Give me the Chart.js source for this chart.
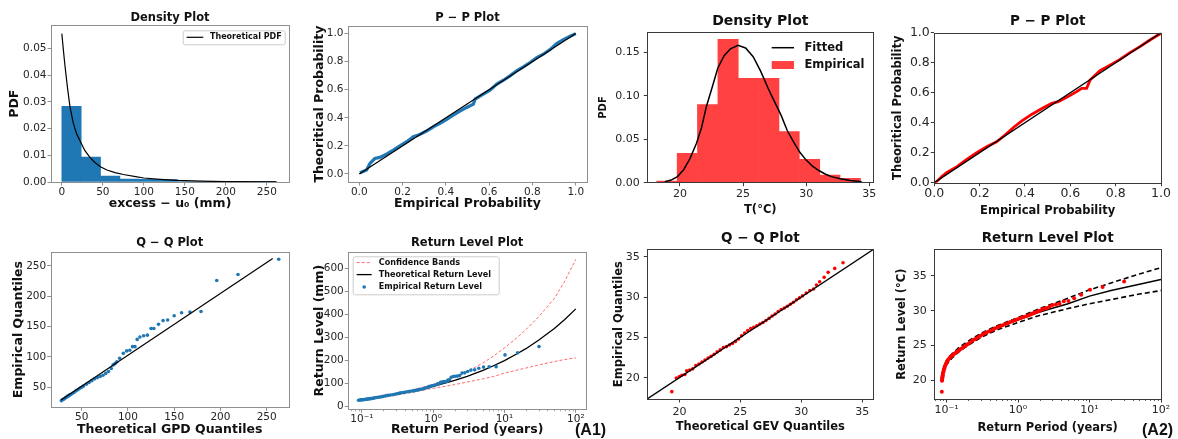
<!DOCTYPE html>
<html>
<head>
<meta charset="utf-8">
<title>Extreme value fit diagnostics</title>
<script src="https://cdn.jsdelivr.net/npm/chart.js@4.4.1/dist/chart.umd.min.js"></script>
<style>
  body { margin: 0; width: 1178px; height: 439px; background: #fff; position: relative; overflow: hidden; }
  canvas { position: absolute; }
  .tag { position: absolute; font: bold 16px "Liberation Sans", Arial, sans-serif; line-height: 16px; color: #111; }
</style>
</head>
<body>
<canvas id="dens1"></canvas>
<canvas id="pp1"></canvas>
<canvas id="dens2"></canvas>
<canvas id="pp2"></canvas>
<canvas id="qq1"></canvas>
<canvas id="rl1"></canvas>
<canvas id="qq2"></canvas>
<canvas id="rl2"></canvas>
<div class="tag" style="left:575px; top:422px">(A1)</div>
<div class="tag" style="left:1142px; top:422px">(A2)</div>
<script>
// ---------- A1 : GPD fit of rainfall excesses ----------
const gpdBinCenters = [11.8, 35.4, 59.0, 82.6, 106.2, 129.8, 153.4, 177.0, 200.6, 224.2, 247.8];
const gpdBinDensity = [0.0283, 0.0093, 0.0022, 0.0011, 0.0010, 0.0009, 0.0002, 0.0002, 0.0001, 0.0001, 0.0001];
const gpdPdfX = [0, 2, 4, 7, 10, 14, 18, 22, 28, 34, 40, 47, 55, 65, 75, 90, 100, 120, 140, 170, 200, 262];
const gpdPdfY = [0.0555, 0.049, 0.043, 0.035, 0.028, 0.022, 0.018, 0.0155, 0.0118, 0.0093, 0.0074, 0.0057, 0.0045, 0.0035, 0.0028, 0.0020, 0.0015, 0.0010, 0.0006, 0.0003, 0.00015, 0.00005];

const ppEmp1 = [0.003, 0.034, 0.05, 0.072, 0.095, 0.126, 0.157, 0.188, 0.219, 0.25, 0.273, 0.311, 0.342, 0.373, 0.404, 0.434, 0.465, 0.496, 0.527, 0.535, 0.565, 0.604, 0.635, 0.666, 0.696, 0.727, 0.758, 0.789, 0.82, 0.85, 0.881, 0.912, 0.943, 0.974, 1.0];
const ppTheo1 = [0.009, 0.028, 0.076, 0.11, 0.118, 0.142, 0.17, 0.2, 0.23, 0.265, 0.277, 0.306, 0.336, 0.36, 0.389, 0.419, 0.448, 0.474, 0.498, 0.533, 0.562, 0.597, 0.64, 0.668, 0.699, 0.735, 0.763, 0.794, 0.829, 0.853, 0.886, 0.929, 0.957, 0.981, 1.0];
const diagUnit = [0, 1];

const qqTheo1 = [28, 29, 30, 31, 32, 33, 34, 35, 36, 37, 38, 40, 42, 44, 46, 48, 50, 52, 55, 58, 61, 64, 67, 70, 73, 76, 79, 82, 84, 86, 88, 91, 95, 98.6, 102, 105, 107.6, 110, 113, 117, 121, 125, 128, 133, 138, 143, 150, 158, 167, 179, 196, 219, 263];
const qqEmp1 = [28, 29.5, 30, 31, 32, 33.5, 34, 35.5, 36, 37.5, 38, 40, 42, 44.5, 46, 48.5, 50, 52, 55, 58, 61, 64, 66, 68, 70, 73, 76, 81, 87, 89, 92, 98, 106, 110, 111, 117, 117, 129, 133, 135, 136, 147, 147, 154, 160, 161, 168, 173, 174, 175, 226, 236, 261];
const qqLine1X = [27.6, 256.5];
const qqLine1Y = [29.1, 262.2];

const rlPeriod1 = [30.5, 15.25, 10.17, 7.63, 6.1, 5.08, 4.36, 3.81, 3.39, 3.05, 2.77, 2.54, 2.35, 2.18, 2.03, 1.91, 1.79, 1.69, 1.61, 1.53, 1.45, 1.39, 1.33, 1.27, 1.22, 1.17, 1.13, 1.07, 1.02, 0.96, 0.92, 0.88, 0.85, 0.8, 0.76, 0.72, 0.68, 0.64, 0.61, 0.58, 0.55, 0.53, 0.51, 0.47, 0.44, 0.41, 0.38, 0.36, 0.34, 0.325, 0.31, 0.29, 0.27, 0.25, 0.23, 0.215, 0.2, 0.19, 0.18, 0.17, 0.16, 0.152, 0.145, 0.139, 0.133, 0.127, 0.122, 0.117, 0.113, 0.109, 0.105, 0.1, 0.098, 0.094, 0.09];
const rlLevel1 = [261, 234, 225, 174, 173, 172, 167, 160, 159, 153, 147, 146, 135, 133, 132, 131, 128, 117, 116, 109, 109, 108, 107, 106, 101, 99, 97, 94, 92, 90.5, 89, 87, 85, 82.5, 80, 78, 76, 74.5, 73, 71.5, 70, 69, 68, 66.5, 65, 63.5, 62, 60.5, 59, 57.5, 56, 54, 52, 50.5, 49, 47, 45, 43.5, 42, 41, 40, 38.5, 37, 36, 35, 34.2, 33.5, 32.8, 32, 31.2, 30.5, 30, 29.5, 28.8, 28];
const rlCurveT1 = [0.09, 0.12, 0.15, 0.2, 0.3, 0.5, 0.7, 1, 1.5, 2, 3, 5, 7, 10, 15, 20, 30, 50, 70, 100];
const rlTheo1 = [30, 35, 39, 45, 54, 67, 77, 88, 103, 114, 132, 158, 178, 200, 230, 252, 289, 340, 379, 425];
const rlUpper1 = [31, 37, 41, 48, 57, 72, 84, 97, 114, 129, 153, 190, 220, 255, 300, 335, 390, 470, 545, 640];
const rlLower1 = [27, 32, 36, 42, 50, 62, 71, 80, 89, 96, 107, 121, 131, 146, 159, 168, 181, 196, 205, 212];

// ---------- A2 : GEV fit of temperature maxima ----------
const tBinCenters = [18.96, 20.58, 22.19, 23.81, 25.42, 27.04, 28.65, 30.27, 31.88, 33.50];
const tBinDensity = [0.002, 0.0338, 0.090, 0.165, 0.120, 0.120, 0.0587, 0.0268, 0.0088, 0.005];
const tFitX = [18.8, 19.3, 19.8, 20.3, 20.8, 21.3, 21.7, 22.1, 22.6, 23.0, 23.5, 24.0, 24.6, 25.2, 25.8, 26.4, 27.0, 27.5, 28.0, 28.5, 29.0, 29.5, 30.0, 30.5, 31.0, 31.5, 32.0, 32.7, 33.5, 34.4];
const tFitPdf = [0.001, 0.003, 0.007, 0.015, 0.028, 0.045, 0.063, 0.088, 0.112, 0.132, 0.146, 0.154, 0.158, 0.155, 0.145, 0.128, 0.108, 0.093, 0.078, 0.060, 0.047, 0.035, 0.026, 0.019, 0.014, 0.010, 0.007, 0.0045, 0.0025, 0.001];

const ppEmp2 = [0, 0.01, 0.032, 0.054, 0.1, 0.143, 0.187, 0.231, 0.275, 0.312, 0.349, 0.385, 0.429, 0.481, 0.518, 0.547, 0.584, 0.628, 0.65, 0.672, 0.687, 0.731, 0.775, 0.819, 0.863, 0.907, 0.951, 1.0];
const ppTheo2 = [0, 0.007, 0.04, 0.067, 0.107, 0.156, 0.2, 0.24, 0.273, 0.318, 0.368, 0.41, 0.455, 0.5, 0.529, 0.54, 0.569, 0.607, 0.629, 0.629, 0.684, 0.747, 0.784, 0.822, 0.867, 0.907, 0.951, 0.996];

const qqTheo2 = [19.38, 19.75, 20.0, 20.2, 20.45, 20.6, 20.85, 21.1, 21.35, 21.6, 21.85, 22.1, 22.35, 22.6, 22.85, 23.1, 23.35, 23.6, 23.85, 24.1, 24.35, 24.6, 24.85, 25.1, 25.35, 25.6, 25.85, 26.1, 26.35, 26.6, 26.85, 27.1, 27.35, 27.6, 27.85, 28.1, 28.35, 28.6, 28.85, 29.1, 29.35, 29.6, 29.85, 30.1, 30.4, 30.7, 31.0, 31.24, 31.5, 31.87, 32.2, 32.74, 33.42];
const qqEmp2 = [18.27, 19.95, 20.15, 20.3, 20.4, 20.85, 20.95, 21.1, 21.5, 21.7, 21.95, 22.2, 22.45, 22.65, 22.9, 23.2, 23.45, 23.75, 23.85, 24.05, 24.25, 24.5, 24.8, 25.2, 25.55, 25.85, 26.1, 26.25, 26.45, 26.65, 26.85, 27.1, 27.35, 27.65, 27.9, 28.2, 28.45, 28.65, 28.85, 29.1, 29.35, 29.65, 29.9, 30.15, 30.5, 30.8, 31.0, 31.5, 31.9, 32.44, 33.06, 33.55, 34.25];
const qqLine2 = [17.37, 35.9];

const rlPeriod2 = [30.5, 15.25, 10.17, 7.63, 6.1, 5.08, 4.36, 3.81, 3.39, 3.05, 2.77, 2.54, 2.35, 2.18, 2.03, 1.9, 1.8, 1.7, 1.6, 1.5, 1.4, 1.3, 1.2, 1.1, 1.0, 0.93, 0.85, 0.78, 0.72, 0.66, 0.61, 0.56, 0.52, 0.48, 0.45, 0.42, 0.39, 0.36, 0.34, 0.32, 0.3, 0.28, 0.26, 0.245, 0.23, 0.215, 0.2, 0.19, 0.18, 0.17, 0.16, 0.152, 0.145, 0.139, 0.133, 0.127, 0.122, 0.117, 0.113, 0.109, 0.105, 0.102, 0.1, 0.098, 0.096, 0.0945, 0.093, 0.092, 0.091, 0.09, 0.089, 0.0885, 0.088, 0.0875, 0.087, 0.0868, 0.0865, 0.086];
const rlLevel2 = [34.2, 33.4, 33.0, 32.3, 31.8, 31.4, 31.35, 31.0, 30.9, 30.8, 30.6, 30.4, 30.3, 30.2, 30.0, 29.9, 29.8, 29.7, 29.6, 29.45, 29.3, 29.2, 29.1, 28.95, 28.8, 28.65, 28.5, 28.35, 28.2, 28.05, 27.9, 27.75, 27.6, 27.45, 27.3, 27.15, 27.0, 26.85, 26.7, 26.55, 26.4, 26.2, 26.0, 25.85, 25.7, 25.45, 25.2, 25.05, 24.9, 24.7, 24.5, 24.35, 24.2, 24.05, 23.9, 23.75, 23.6, 23.45, 23.3, 23.1, 22.9, 22.7, 22.5, 22.3, 22.1, 21.9, 21.7, 21.5, 21.3, 21.1, 20.9, 20.7, 20.5, 20.35, 20.2, 20.05, 19.9, 18.3];
const rlCurveT2 = [0.085, 0.09, 0.1, 0.12, 0.15, 0.2, 0.3, 0.5, 1, 2, 5, 10, 20, 50, 100];
const rlTheo2 = [20.0, 21.2, 22.5, 23.5, 24.4, 25.3, 26.4, 27.5, 28.7, 29.8, 31.0, 32.1, 32.9, 33.8, 34.5];
const rlUpper2 = [20.2, 21.4, 22.8, 23.8, 24.7, 25.6, 26.7, 27.8, 29.0, 30.3, 31.8, 33.0, 34.0, 35.3, 36.2];
const rlLower2 = [19.8, 21.0, 22.2, 23.2, 24.1, 25.0, 26.1, 27.2, 28.3, 29.3, 30.3, 31.0, 31.6, 32.4, 32.9];

// ---------- tick values / labels ----------
const probTicks = [0, 0.2, 0.4, 0.6, 0.8, 1.0];
const mmTicks = [50, 100, 150, 200, 250];
const excessTicks = [0, 50, 100, 150, 200, 250];
const pdfTicks1 = [0, 0.01, 0.02, 0.03, 0.04, 0.05];
const pdfTicks2 = [0, 0.05, 0.10, 0.15];
const levelTicks1 = [0, 100, 200, 300, 400, 500, 600];
const tempTicks = [20, 25, 30, 35];
const logTicks = [0.1, 1, 10, 100];
const logLabels = ['10\u207B\u00B9', '10\u2070', '10\u00B9', '10\u00B2'];
const logMinorTicks = [0.07, 0.08, 0.09, 0.2, 0.3, 0.4, 0.5, 0.6, 0.7, 0.8, 0.9, 2, 3, 4, 5, 6, 7, 8, 9, 20, 30, 40, 50, 60, 70, 80, 90];

const BLUE = '#1f77b4';
const RED = '#ff0000';
const EDGE1 = '#8f8f8f';
const EDGE2 = '#3a3a3a';

Chart.defaults.font.family = '"DejaVu Sans", sans-serif';

function pairs(xs, ys) {
  return xs.map((x, i) => ({ x: x, y: ys[i] }));
}

function axis(o) {
  const left = o.pos === 'left';
  return {
    type: o.log ? 'logarithmic' : 'linear',
    position: o.pos,
    min: o.min,
    max: o.max,
    bounds: 'data',
    offset: false,
    afterBuildTicks: s => { s.ticks = o.ticks.map(v => ({ value: v })); },
    afterFit: s => { if (left) s.width = o.size; else s.height = o.size; },
    grid: { display: true, drawOnChartArea: false, drawTicks: true, tickLength: 3.5, tickWidth: 1,
            tickColor: o.edge, color: o.edge, offset: false },
    border: { display: false },
    ticks: {
      autoSkip: false, maxRotation: 0, minRotation: 0, padding: o.pad,
      color: '#262626', font: { size: o.fs },
      callback: v => o.labels ? o.labels[o.ticks.indexOf(v)] : o.fmt(v)
    },
    title: {
      display: true, text: o.title, color: '#111',
      font: { size: o.ts, weight: 'bold' },
      padding: left ? { top: o.tp, bottom: 0 } : { top: 0, bottom: o.tp }
    }
  };
}

function drawLegend(ctx, a, L) {
  const x0 = a.left + L.x, y0 = a.top + L.y;
  if (L.frame) {
    ctx.fillStyle = 'rgba(255,255,255,0.85)';
    ctx.strokeStyle = '#cccccc';
    ctx.lineWidth = 1;
    ctx.beginPath();
    ctx.roundRect(x0 + 0.5, y0 + 0.5, L.w, L.h, 2);
    ctx.fill();
    ctx.stroke();
  }
  ctx.font = 'bold ' + L.size + 'px "DejaVu Sans"';
  ctx.textAlign = 'left';
  ctx.textBaseline = 'middle';
  L.items.forEach((it, i) => {
    const cy = y0 + L.rows[i];
    if (it.kind === 'line') {
      ctx.strokeStyle = it.color;
      ctx.lineWidth = it.width;
      ctx.setLineDash(it.dash || []);
      ctx.beginPath();
      ctx.moveTo(x0 + L.s0, cy);
      ctx.lineTo(x0 + L.s1, cy);
      ctx.stroke();
      ctx.setLineDash([]);
    } else if (it.kind === 'dot') {
      ctx.fillStyle = it.color;
      ctx.beginPath();
      ctx.arc(x0 + (L.s0 + L.s1) / 2, cy, it.r, 0, Math.PI * 2);
      ctx.fill();
    } else {
      ctx.fillStyle = it.color;
      ctx.fillRect(x0 + L.s0, cy - 4, L.s1 - L.s0, 8);
    }
    ctx.fillStyle = '#111';
    ctx.fillText(it.text, x0 + L.tx, cy);
  });
}

function makeDecor(spec) {
  return {
    id: 'decor',
    afterDraw(chart) {
      const ctx = chart.ctx, a = chart.chartArea;
      ctx.save();
      if (spec.minor) {
        const sx = chart.scales.x;
        ctx.strokeStyle = spec.edge;
        ctx.lineWidth = 0.8;
        spec.minor.forEach(v => {
          if (v < sx.min || v > sx.max) return;
          const px = Math.round(sx.getPixelForValue(v)) + 0.5;
          ctx.beginPath();
          ctx.moveTo(px, a.bottom);
          ctx.lineTo(px, a.bottom + 2);
          ctx.stroke();
        });
      }
      ctx.strokeStyle = spec.edge;
      ctx.lineWidth = 1;
      ctx.strokeRect(Math.round(a.left) + 0.5, Math.round(a.top) + 0.5,
                     Math.round(a.right - a.left), Math.round(a.bottom - a.top));
      if (spec.legend) drawLegend(ctx, a, spec.legend);
      ctx.restore();
    }
  };
}

function panel(id, box, cfg) {
  const c = document.getElementById(id);
  c.style.left = box[0] + 'px';
  c.style.top = box[1] + 'px';
  c.width = box[2];
  c.height = box[3];
  return new Chart(c, {
    type: 'scatter',
    data: { datasets: cfg.datasets },
    options: {
      responsive: false,
      animation: false,
      events: [],
      layout: { padding: { left: 0, top: 0, bottom: 0, right: cfg.right } },
      scales: { x: cfg.x, y: cfg.y },
      plugins: {
        legend: { display: false },
        tooltip: { enabled: false },
        title: {
          display: true, fullSize: false, text: cfg.title, color: '#111',
          font: { size: cfg.tsize, weight: 'bold' },
          padding: { top: cfg.tpad[0], bottom: cfg.tpad[1] }
        }
      }
    },
    plugins: [makeDecor(cfg.decor)]
  });
}

function lineSet(xs, ys, color, width, dash) {
  return { data: pairs(xs, ys), showLine: true, borderColor: color, borderWidth: width,
           borderDash: dash || [], pointRadius: 0, tension: 0, fill: false };
}
function dotSet(xs, ys, color, r) {
  return { data: pairs(xs, ys), showLine: false, pointRadius: r, pointBorderWidth: 0,
           backgroundColor: color, borderColor: color };
}
function barSet(xs, ys, color) {
  return { type: 'bar', data: pairs(xs, ys), backgroundColor: color, borderWidth: 0,
           barPercentage: 1, categoryPercentage: 1, grouped: false };
}

const f0 = v => String(v);
const f1 = v => v.toFixed(1);
const f2 = v => v.toFixed(2);

// ---- A1 Density ----
panel('dens1', [0, 0, 295, 215], {
  title: 'Density Plot', tsize: 11.5, tpad: [11.1, 0.4], right: 6,
  datasets: [
    lineSet(gpdPdfX, gpdPdfY, '#000', 1.2),
    barSet(gpdBinCenters, gpdBinDensity, BLUE)
  ],
  x: axis({ pos: 'bottom', min: -13.2, max: 277, ticks: excessTicks, fmt: f0, size: 33, fs: 10.5, pad: 0,
            edge: EDGE1, title: 'excess \u2212 u\u2080 (mm)', ts: 12.5, tp: 3.5 }),
  y: axis({ pos: 'left', min: 0, max: 0.0586, ticks: pdfTicks1, fmt: f2, size: 51, fs: 10.5, pad: 1,
            edge: EDGE1, title: 'PDF', ts: 12.5, tp: 7.5 }),
  decor: { edge: EDGE1, legend: { x: 131.7, y: 5, w: 102, h: 14, frame: true, size: 8, s0: 4, s1: 20.6, tx: 27.3,
           rows: [7], items: [{ kind: 'line', color: '#000', width: 1.2, text: 'Theoretical PDF' }] } }
});

// ---- A1 P-P ----
panel('pp1', [300, 0, 294, 215], {
  title: 'P \u2212 P Plot', tsize: 11.5, tpad: [11.1, 1.4], right: 7,
  datasets: [
    lineSet(diagUnit, diagUnit, '#000', 1.2),
    lineSet(ppEmp1, ppTheo1, BLUE, 3.2)
  ],
  x: axis({ pos: 'bottom', min: -0.052, max: 1.052, ticks: probTicks, fmt: f1, size: 33, fs: 10.5, pad: 0,
            edge: EDGE1, title: 'Empirical Probability', ts: 12.5, tp: 3.5 }),
  y: axis({ pos: 'left', min: -0.057, max: 1.052, ticks: probTicks, fmt: f1, size: 48, fs: 10.5, pad: 1,
            edge: EDGE1, title: 'Theoritical Probability', ts: 12.5, tp: 11.8 }),
  decor: { edge: EDGE1 }
});

// ---- A1 Q-Q ----
panel('qq1', [0, 225, 295, 214], {
  title: 'Q \u2212 Q Plot', tsize: 11.5, tpad: [11.4, 1.8], right: 6.3,
  datasets: [
    lineSet(qqLine1X, qqLine1Y, '#000', 1.2),
    dotSet(qqTheo1, qqEmp1, BLUE, 1.8)
  ],
  x: axis({ pos: 'bottom', min: 16.5, max: 273.8, ticks: mmTicks, fmt: f0, size: 31.7, fs: 10.5, pad: 0,
            edge: EDGE1, title: 'Theoretical GPD Quantiles', ts: 12.5, tp: 2.2 }),
  y: axis({ pos: 'left', min: 17.1, max: 273, ticks: mmTicks, fmt: f0, size: 50.7, fs: 10.5, pad: 1,
            edge: EDGE1, title: 'Empirical Quantiles', ts: 12.5, tp: 10.8 }),
  decor: { edge: EDGE1 }
});

// ---- A1 Return level ----
panel('rl1', [300, 225, 294, 214], {
  title: 'Return Level Plot', tsize: 11.5, tpad: [11.4, 1.8], right: 8,
  datasets: [
    dotSet(rlPeriod1, rlLevel1, BLUE, 1.8),
    lineSet(rlCurveT1, rlTheo1, '#000', 1.3),
    lineSet(rlCurveT1, rlUpper1, 'rgba(255,0,0,0.65)', 0.9, [3, 2]),
    lineSet(rlCurveT1, rlLower1, 'rgba(255,0,0,0.65)', 0.9, [3, 2])
  ],
  x: axis({ pos: 'bottom', log: true, min: 0.0646, max: 139, ticks: logTicks, labels: logLabels, size: 29.7, fs: 10.5, pad: 0,
            edge: EDGE1, title: 'Return Period (years)', ts: 12.5, tp: 1.5 }),
  y: axis({ pos: 'left', min: -11.3, max: 672, ticks: levelTicks1, fmt: f0, size: 48.3, fs: 10.5, pad: 1,
            edge: EDGE1, title: 'Return Level (mm)', ts: 12.5, tp: 12.5 }),
  decor: { edge: EDGE1, minor: logMinorTicks,
           legend: { x: 4.4, y: 4.3, w: 146, h: 38, frame: true, size: 8.1, s0: 4, s1: 19, tx: 26, rows: [6.3, 18.3, 30.7],
                     items: [{ kind: 'line', color: 'rgba(255,0,0,0.65)', width: 0.9, dash: [3, 2], text: 'Confidence Bands' },
                             { kind: 'line', color: '#000', width: 1.3, text: 'Theoretical Return Level' },
                             { kind: 'dot', color: BLUE, r: 1.8, text: 'Empirical Return Level' }] } }
});

// ---- A2 Density ----
panel('dens2', [596, 0, 284, 219], {
  title: 'Density Plot', tsize: 14, tpad: [13.3, 2.2], right: 6.7,
  datasets: [
    lineSet(tFitX, tFitPdf, '#000', 1.5),
    barSet(tBinCenters, tBinDensity, '#ff4141')
  ],
  x: axis({ pos: 'bottom', min: 17.41, max: 35.32, ticks: tempTicks, fmt: f0, size: 36.3, fs: 11, pad: 1.5,
            edge: EDGE2, title: 'T(\u00B0C)', ts: 11.5, tp: 2.1 }),
  y: axis({ pos: 'left', min: 0, max: 0.173, ticks: pdfTicks2, fmt: f2, size: 51.3, fs: 11, pad: 4,
            edge: EDGE2, title: 'PDF', ts: 10, tp: 1.3 }),
  decor: { edge: EDGE2,
           legend: { x: 124.4, y: 0, frame: false, size: 11.5, s0: 0, s1: 22.3, tx: 32.7, rows: [15.4, 32.7],
                     items: [{ kind: 'line', color: '#000', width: 1.5, text: 'Fitted' },
                             { kind: 'rect', color: '#ff4141', text: 'Empirical' }] } }
});

// ---- A2 P-P ----
panel('pp2', [882, 0, 296, 219], {
  title: 'P \u2212 P Plot', tsize: 13.5, tpad: [13.6, 2.9], right: 17,
  datasets: [
    lineSet(diagUnit, diagUnit, '#000', 1.3),
    lineSet(ppEmp2, ppTheo2, RED, 2.8)
  ],
  x: axis({ pos: 'bottom', min: 0, max: 1, ticks: probTicks, fmt: f1, size: 36.3, fs: 12.5, pad: 0,
            edge: EDGE2, title: 'Empirical Probability', ts: 11.5, tp: 1.4 }),
  y: axis({ pos: 'left', min: 0, max: 1, ticks: probTicks, fmt: f1, size: 52.3, fs: 12.5, pad: 1,
            edge: EDGE2, title: 'Theoritical Probability', ts: 11.5, tp: 9.4 }),
  decor: { edge: EDGE2 }
});

// ---- A2 Q-Q ----
panel('qq2', [600, 225, 280, 214], {
  title: 'Q \u2212 Q Plot', tsize: 13.5, tpad: [5.2, 2.9], right: 6.7,
  datasets: [
    lineSet(qqLine2, qqLine2, '#000', 1.3),
    dotSet(qqTheo2, qqEmp2, RED, 1.8)
  ],
  x: axis({ pos: 'bottom', min: 17.37, max: 35.9, ticks: tempTicks, fmt: f0, size: 40, fs: 11, pad: 2.6,
            edge: EDGE2, title: 'Theoretical GEV Quantiles', ts: 11.5, tp: 5.4 }),
  y: axis({ pos: 'left', min: 17.36, max: 35.92, ticks: tempTicks, fmt: f0, size: 47.3, fs: 11, pad: 4,
            edge: EDGE2, title: 'Empirical Quantiles', ts: 11.5, tp: 12.1 }),
  decor: { edge: EDGE2 }
});

// ---- A2 Return level ----
panel('rl2', [885, 225, 293, 214], {
  title: 'Return Level Plot', tsize: 13.5, tpad: [5.2, 2.9], right: 17,
  datasets: [
    dotSet(rlPeriod2, rlLevel2, RED, 2.0),
    lineSet(rlCurveT2, rlTheo2, '#000', 1.5),
    lineSet(rlCurveT2, rlUpper2, '#000', 1.6, [5, 3]),
    lineSet(rlCurveT2, rlLower2, '#000', 1.6, [5, 3])
  ],
  x: axis({ pos: 'bottom', log: true, min: 0.0675, max: 100, ticks: logTicks, labels: logLabels, size: 40, fs: 11, pad: 1,
            edge: EDGE2, title: 'Return Period (years)', ts: 11.5, tp: 3.8 }),
  y: axis({ pos: 'left', min: 17.26, max: 38.85, ticks: tempTicks, fmt: f0, size: 49.3, fs: 11, pad: 4,
            edge: EDGE2, title: 'Return Level (\u00B0C)', ts: 11.5, tp: 9.8 }),
  decor: { edge: EDGE2, minor: logMinorTicks }
});
</script>
</body>
</html>
